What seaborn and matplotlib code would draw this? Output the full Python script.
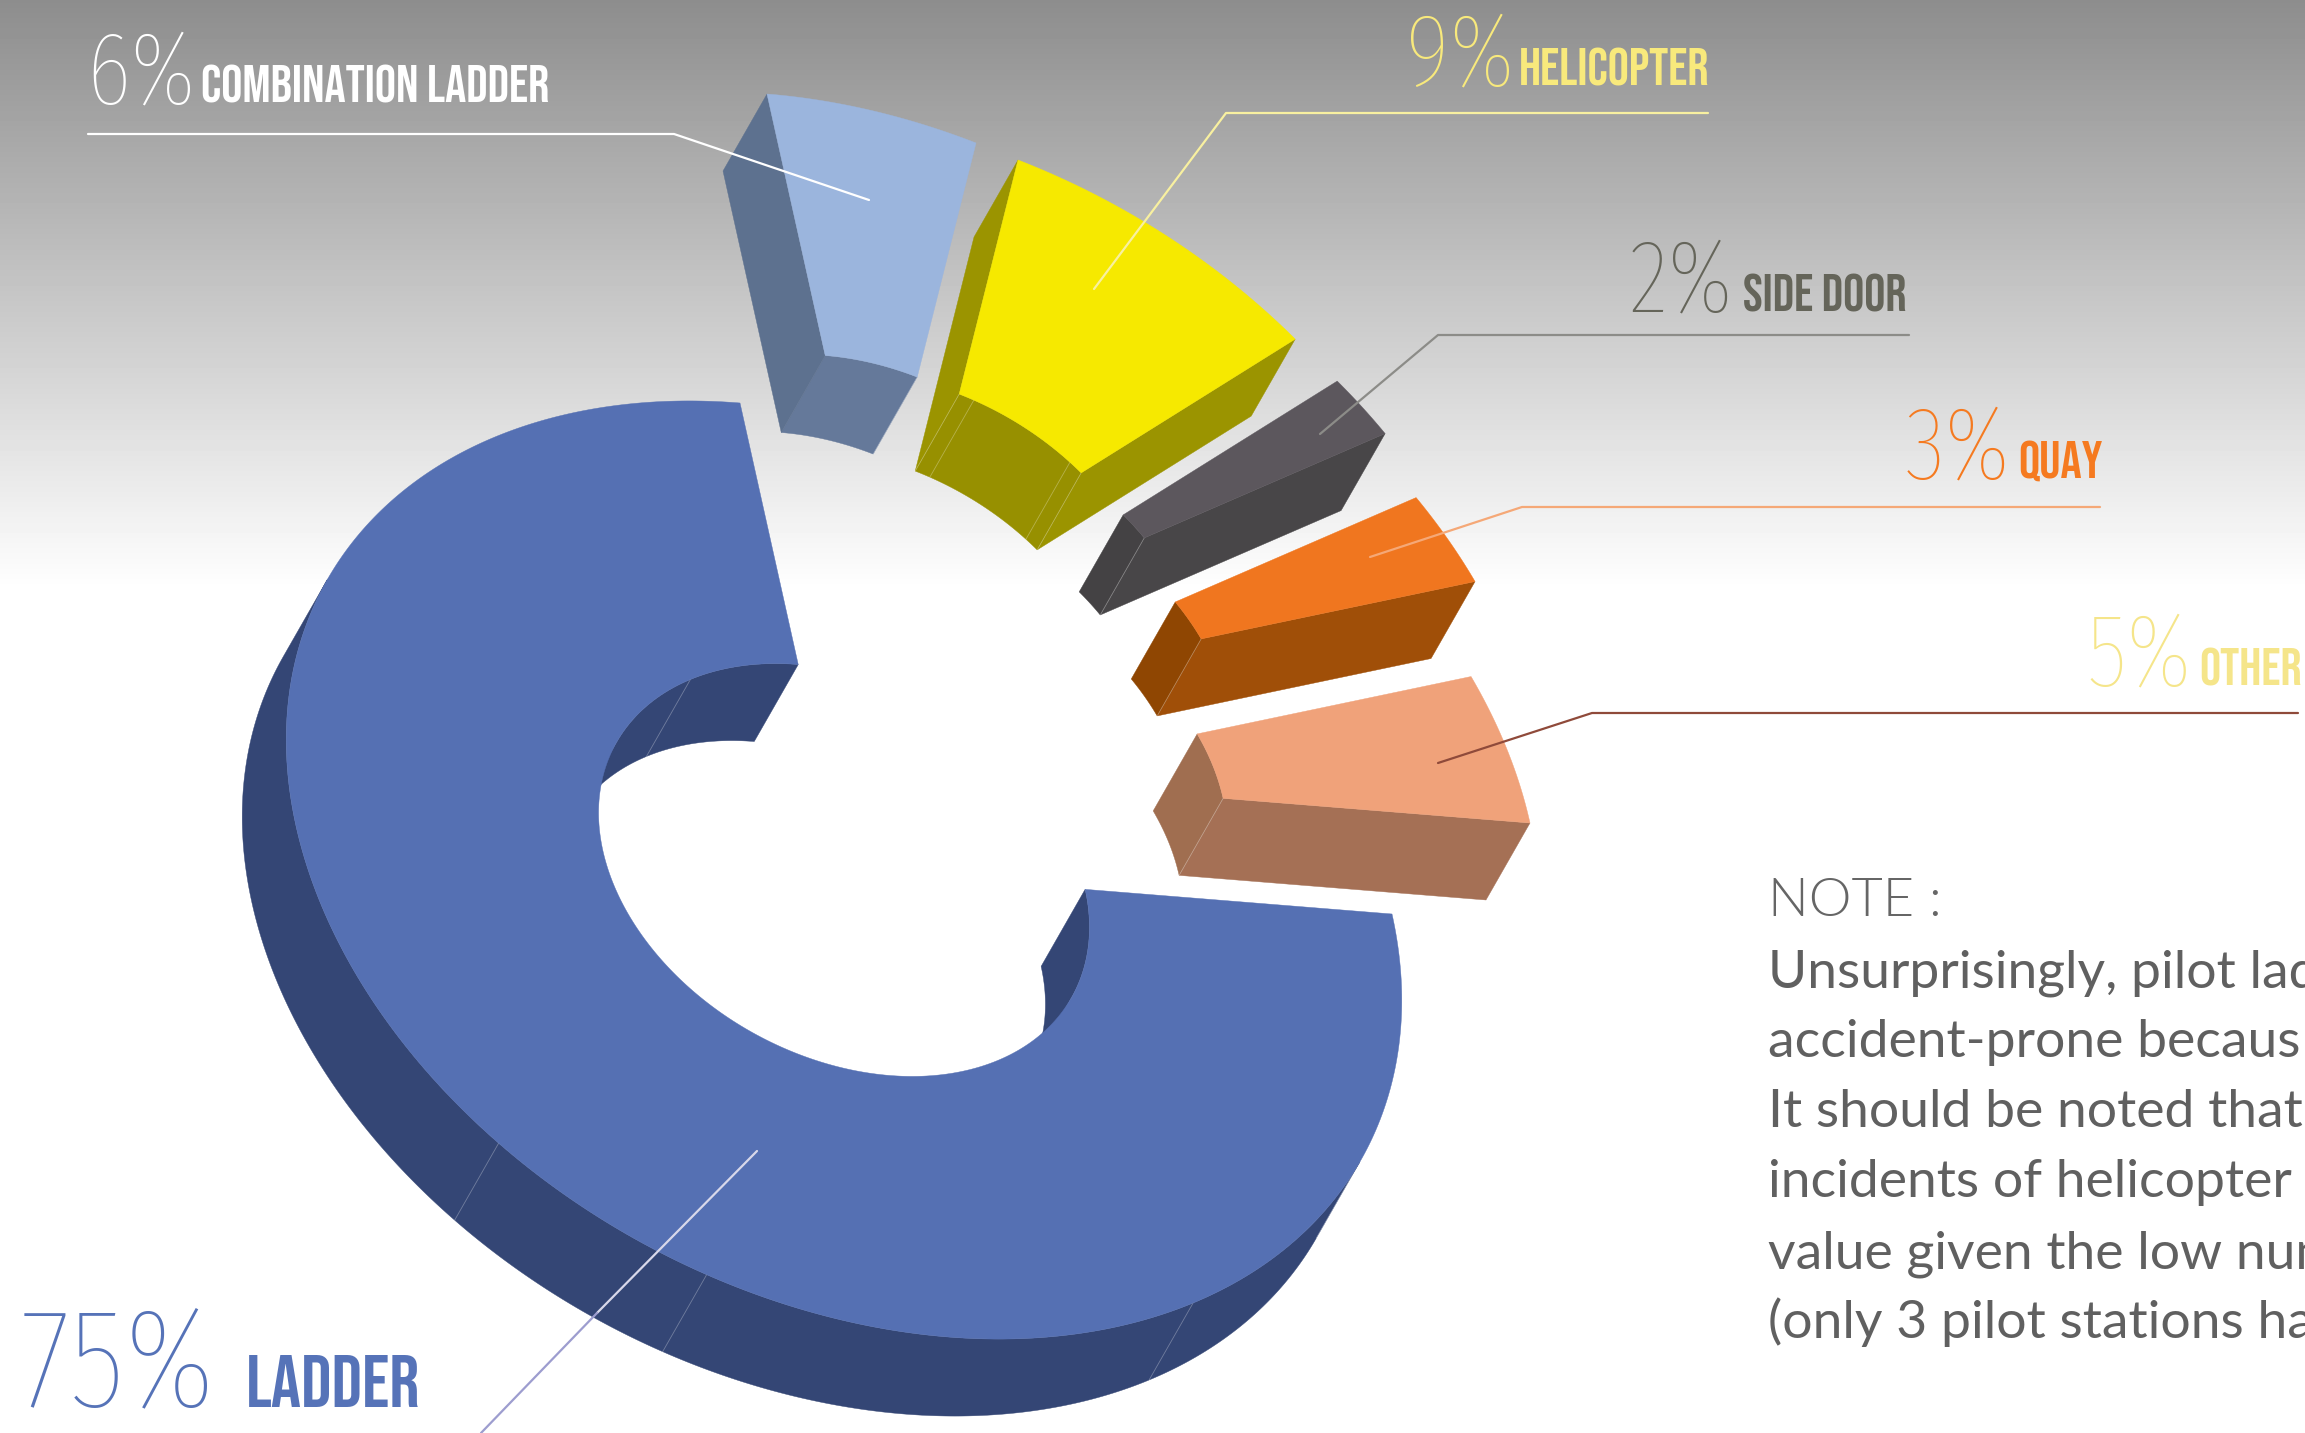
import numpy as np
import matplotlib
matplotlib.use("Agg")
import matplotlib.pyplot as plt
import seaborn as sns

# Shares clockwise from the top of the ring
categories = ["COMBINATION LADDER", "HELICOPTER", "SIDE DOOR", "QUAY", "OTHER", "LADDER"]
shares = [6, 9, 2, 3, 5, 75]

top_colors = ["#9bb5dd", "#f6e900", "#5c575d", "#f0761f", "#f0a27a", "#5570b3"]
wall_colors = ["#5d718f", "#9b9400", "#484648", "#a04f08", "#a57055", "#344675"]
inner_colors = ["#65799a", "#979000", "#444244", "#8f4602", "#a06e50", "#344675"]
text_colors = ["#ffffff", "#f8e97c", "#65655a", "#f57a20", "#f5e58a", "#5673b8"]
leader_colors = ["#ffffff", "#f8f0a0", "#8c8c88", "#f5a877", "#8f4a3a", "#d8d8ea", "#9d9dcf"]

note_lines = ["Unsurprisingly, pilot lad", "accident-prone becaus", "It should be noted that",
              "incidents of helicopter", "value given the low num", "(only 3 pilot stations ha"]

# Exploded centre of each slice, in pixels
centres = [(871, 561), (913, 578), (955, 620), (986, 684), (982, 779), (844, 870)]

# Ring projected on the page
axis_a = np.array([548.0, 44.0])
axis_b = np.array([-104.0, -467.0])
depth = np.array([-44.0, 77.0])
inner = 0.44

sns.set_theme(style="white")
plt.rcParams["font.family"] = ["Lato", "DejaVu Sans"]
thin_font = ["Fira Sans Extra Condensed", "Barlow Condensed", "Roboto Condensed", "Lato", "DejaVu Sans"]
label_font = ["Bebas Neue", "Barlow Condensed", "Roboto Condensed", "Lato", "DejaVu Sans"]

fig = plt.figure(figsize=(23.05, 14.33), dpi=100)
ax = fig.add_axes([0, 0, 1, 1])

# Grey fade at the top
fade = np.ones((1433, 1))
fade[:590, 0] = np.linspace(0.553, 1.0, 590)
ax.imshow(fade, cmap="gray", vmin=0, vmax=1, extent=(0, 2305, 1433, 0), aspect="auto", zorder=0)


def ring(theta, radius, centre):
    t = np.radians(theta)
    return np.asarray(centre) + radius * (np.outer(np.cos(t), axis_a) + np.outer(np.sin(t), axis_b))


def walls(points, sign, color):
    # sweep the edges that face the viewer along the depth direction
    edges = np.diff(points, axis=0)
    normal = sign * np.column_stack([edges[:, 1], -edges[:, 0]])
    facing = normal @ depth > 0
    i = 0
    while i < len(facing):
        if not facing[i]:
            i += 1
            continue
        j = i
        while j + 1 < len(facing) and facing[j + 1]:
            j += 1
        run = points[i:j + 2]
        shape = np.vstack([run, run[::-1] + depth])
        ax.fill(shape[:, 0], shape[:, 1], color=color, lw=0.3, zorder=2)
        i = j + 1


def seam(theta, radius, centre):
    p = ring(np.array([theta]), radius, centre)[0]
    ax.plot([p[0], p[0] + depth[0]], [p[1], p[1] + depth[1]], color="white", alpha=0.3, lw=0.6, zorder=2.5)


angle = 90.0
for i, name in enumerate(categories):
    sweep = shares[i] * 3.6
    t = np.linspace(angle, angle - sweep, max(int(sweep * 2), 12))
    c = centres[i]
    outer_arc = ring(t, 1.0, c)
    inner_arc = ring(t[::-1], inner, c)
    top = np.vstack([outer_arc, inner_arc])
    x, y = top[:, 0], top[:, 1]
    sign = np.sign(np.dot(x, np.roll(y, -1)) - np.dot(y, np.roll(x, -1)))
    walls(outer_arc, sign, wall_colors[i])
    walls(np.vstack([outer_arc[-1], inner_arc[0]]), sign, wall_colors[i])
    walls(inner_arc, sign, inner_colors[i])
    walls(np.vstack([inner_arc[-1], outer_arc[0]]), sign, wall_colors[i])
    if name == "LADDER":
        for th in [-139, -115, -62, -33]:
            seam(th, 1.0, c)
        seam(118 - 360, inner, c)
    else:
        seam(angle - sweep, inner, c)
    if name == "HELICOPTER":
        seam(angle, inner, c)
        seam(angle - 3.5, inner, c)
        seam(angle - sweep + 3.5, inner, c)
    ax.fill(x, y, color=top_colors[i], lw=0.3, zorder=3)
    angle -= sweep

# Leaders: from the slice out to the label
leaders = [([88, 674, 869], [134, 134, 200]), ([1708, 1226, 1094], [113, 113, 289]),
           ([1909, 1438, 1320], [335, 335, 434]), ([2100, 1522, 1370], [507, 507, 557]),
           ([2298, 1592, 1438], [713, 713, 763]), ([757, 597], [1151, 1313]), ([597, 481], [1313, 1433])]
for i, (lx, ly) in enumerate(leaders):
    sns.lineplot(x=lx, y=ly, sort=False, estimator=None, color=leader_colors[i], lw=1.6, ax=ax, zorder=4)

pct_pos = [(86, 103, 74), (1406, 85, 74), (1630, 311, 74), (1905, 478, 74), (2086, 685, 74), (20, 1407, 102)]
lab_pos = [(201, 102, 38), (1519, 85, 38), (1743, 311, 38), (2018, 478, 38), (2199, 685, 38), (246, 1407, 54)]
for i, name in enumerate(categories):
    px, py, ps = pct_pos[i]
    ax.text(px, py, f"{shares[i]}%", color=text_colors[i], fontsize=ps,
            family=thin_font, weight=100, va="baseline", ha="left", zorder=5)
    lx, ly, ls = lab_pos[i]
    ax.text(lx, ly, name, color=text_colors[i], fontsize=ls,
            family=label_font, va="baseline", ha="left", zorder=5)

ax.text(1768, 916, "NOTE :", color="#666666", fontsize=39, weight=300, va="baseline", zorder=5)
note_y = [987, 1057, 1127, 1197, 1268, 1338]
for line, ny in zip(note_lines, note_y):
    ax.text(1768, ny, line, color="#606060", fontsize=38.5, va="baseline", zorder=5, clip_on=True)

ax.set_xlim(0, 2305)
ax.set_ylim(1433, 0)
ax.set_axis_off()
sns.despine(ax=ax, left=True, bottom=True)
fig.savefig("out.png", dpi=100)
